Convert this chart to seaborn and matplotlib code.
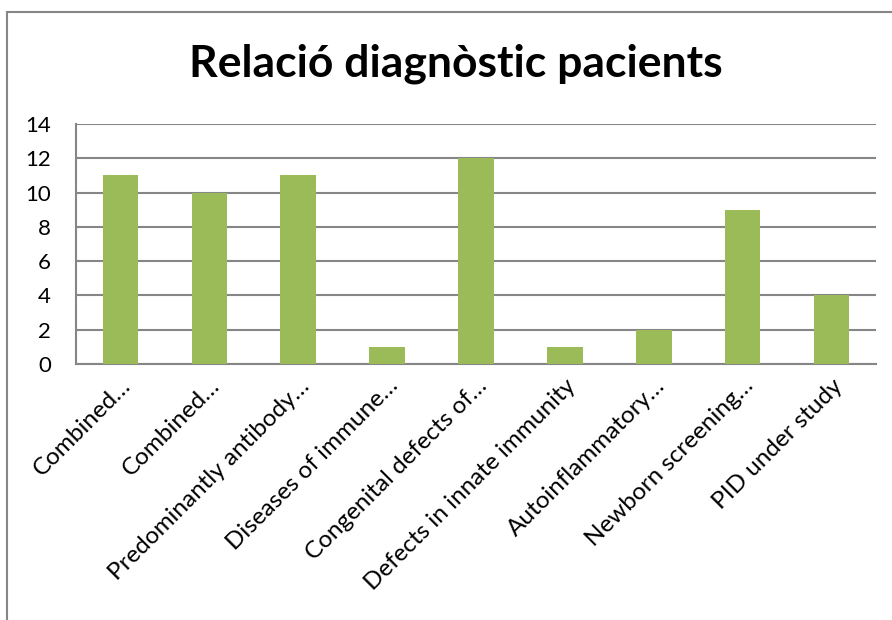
import matplotlib
matplotlib.use("Agg")
import matplotlib.pyplot as plt
import seaborn as sns
import pandas as pd
from matplotlib.patches import Rectangle

categories = [
    "Combined…",
    "Combined…",
    "Predominantly antibody…",
    "Diseases of immune…",
    "Congenital defects of…",
    "Defects in innate immunity",
    "Autoinflammatory…",
    "Newborn screening…",
    "PID under study",
]
patients = [11, 10, 11, 1, 12, 1, 2, 9, 4]
y_ticks = [0, 2, 4, 6, 8, 10, 12, 14]
title = "Relació diagnòstic pacients"

sns.set_style("white")
plt.rcParams['font.family'] = ['Lato', 'DejaVu Sans']

df = pd.DataFrame({"pos": range(len(patients)), "value": patients})

fig = plt.figure(figsize=(8.92, 6.2), dpi=100)
ax = fig.add_axes([76 / 892, 1 - 364 / 620, 800 / 892, 240 / 620])

sns.barplot(data=df, x="pos", y="value", color="#9BBB59", width=0.4,
            saturation=1, linewidth=0, ax=ax, zorder=3)

ax.set_ylim(0, 14)
ax.set_yticks(y_ticks)
ax.set_yticklabels([str(t) for t in y_ticks], fontsize=16, color="black")
ax.set_xlim(-0.5, len(patients) - 0.5)
ax.set_xticks(range(len(categories)))
ax.set_xticklabels(categories, rotation=45, ha="right", va="top",
                   rotation_mode="anchor", fontsize=17.5, color="black")
ax.set_xlabel("")
ax.set_ylabel("")
ax.tick_params(axis="x", length=0, pad=8)
ax.tick_params(axis="y", length=0, pad=18)

ax.grid(axis="y", color="#868686", linewidth=1.5, zorder=0)
for s in ["top", "right"]:
    ax.spines[s].set_visible(False)
for s in ["left", "bottom"]:
    ax.spines[s].set_color("#868686")
    ax.spines[s].set_linewidth(1.5)

fig.text(456 / 892, 1 - 64 / 620, title, ha="center", va="center",
         fontsize=32, fontweight="bold", color="black")

# chart-area frame
fig.patches.append(Rectangle((7 / 892, -0.1), 1.2, 1 - 12 / 620 + 0.1,
                             transform=fig.transFigure, fill=False,
                             edgecolor="#868686", linewidth=1.5))

fig.savefig("out.png", dpi=100)
